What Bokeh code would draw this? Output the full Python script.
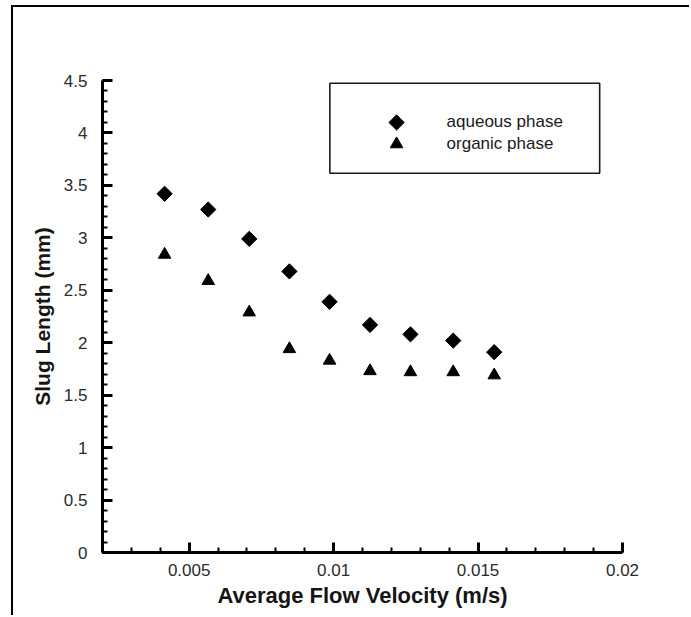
import numpy as np
from bokeh.plotting import figure
from bokeh.models import Range1d, FixedTicker, BoxAnnotation
from bokeh.core.properties import value
from bokeh.embed import file_html
from bokeh.resources import INLINE

# Average flow velocity (m/s) of each run
velocity = [0.00415, 0.00566, 0.00708, 0.00847, 0.00986,
            0.01126, 0.01266, 0.01414, 0.01556]
# Slug lengths (mm)
aqueous = [3.42, 3.27, 2.99, 2.68, 2.39, 2.17, 2.08, 2.02, 1.91]
organic = [2.84, 2.59, 2.29, 1.94, 1.83, 1.73, 1.72, 1.72, 1.69]

series_names = ["aqueous phase", "organic phase"]

x_ticks = [0.005, 0.01, 0.015, 0.02]
x_tick_labels = ["0.005", "0.01", "0.015", "0.02"]
y_ticks = [0, 0.5, 1, 1.5, 2, 2.5, 3, 3.5, 4, 4.5]
y_tick_labels = ["0", "0.5", "1", "1.5", "2", "2.5", "3", "3.5", "4", "4.5"]

FONT = "Liberation Sans"
DIAMOND = dict(marker="square", angle=np.pi / 4, size=10.8,
               fill_color="black", line_color="black")
TRIANGLE = dict(marker="triangle", size=12.5,
                fill_color="black", line_color="black")

p = figure(
    width=678, height=610,
    x_range=Range1d(0.002, 0.02), y_range=Range1d(0, 4.5),
    output_backend="svg", toolbar_location=None,
    min_border_left=89, min_border_right=69,
    min_border_top=73, min_border_bottom=65,
    background_fill_color="white", border_fill_color="white",
)
p.margin = (5, 0, 0, 11)
p.styles = {"border-top": "2px solid black", "border-left": "2px solid black"}
p.outline_line_color = None
p.grid.visible = False

p.scatter(velocity, aqueous, **DIAMOND)
p.scatter(velocity, organic, **TRIANGLE)

# axes
p.xaxis.ticker = FixedTicker(
    ticks=x_ticks,
    minor_ticks=[round(0.002 + 0.001 * i, 3) for i in range(19)])
p.xaxis.major_label_overrides = dict(zip(x_ticks, x_tick_labels))
p.yaxis.ticker = FixedTicker(
    ticks=y_ticks,
    minor_ticks=[round(0.1 * i, 1) for i in range(46)])
p.yaxis.major_label_overrides = dict(zip(y_ticks, y_tick_labels))

p.xaxis.axis_label = "Average Flow Velocity (m/s)"
p.yaxis.axis_label = "Slug Length (mm)"

for ax in (p.xaxis, p.yaxis):
    ax.axis_line_width = 3
    ax.axis_line_color = "black"
    ax.major_tick_in = 10
    ax.major_tick_out = 0
    ax.minor_tick_in = 5
    ax.minor_tick_out = 0
    ax.major_tick_line_width = 3
    ax.minor_tick_line_width = 2
    ax.major_tick_line_color = "black"
    ax.minor_tick_line_color = "black"
    ax.major_label_text_font = FONT
    ax.major_label_text_font_size = "17px"
    ax.major_label_text_color = "#2b2b2b"
    ax.axis_label_text_font = FONT
    ax.axis_label_text_font_style = "bold"
    ax.axis_label_text_color = "#151515"

p.xaxis.axis_label_text_font_size = "22px"
p.yaxis.axis_label_text_font_size = "21px"
p.xaxis.major_label_standoff = 11
p.xaxis.axis_label_standoff = 4
p.yaxis.major_label_standoff = 15
p.yaxis.axis_label_standoff = 7

# legend: framed box with a marker and a label per series
leg_box = dict(left=0.00987, right=0.01921, top=4.474, bottom=3.616)
leg_marker_x = 0.01218
leg_text_x = 0.01391
leg_rows = [4.100, 3.893]

p.add_layout(BoxAnnotation(**leg_box, fill_color=None,
                           line_color="#1a1a1a", line_alpha=1.0,
                           line_width=1.6, level="underlay"))
p.scatter([leg_marker_x], [leg_rows[0]], **DIAMOND)
p.scatter([leg_marker_x], [leg_rows[1]], **TRIANGLE)
p.text(x=[leg_text_x, leg_text_x], y=[4.109, 3.900], text=series_names,
       text_font=value(FONT), text_font_size="17px",
       text_color="#1a1a1a", text_baseline="middle", text_align="left")

open("out.html", "w").write(file_html(p, INLINE))
